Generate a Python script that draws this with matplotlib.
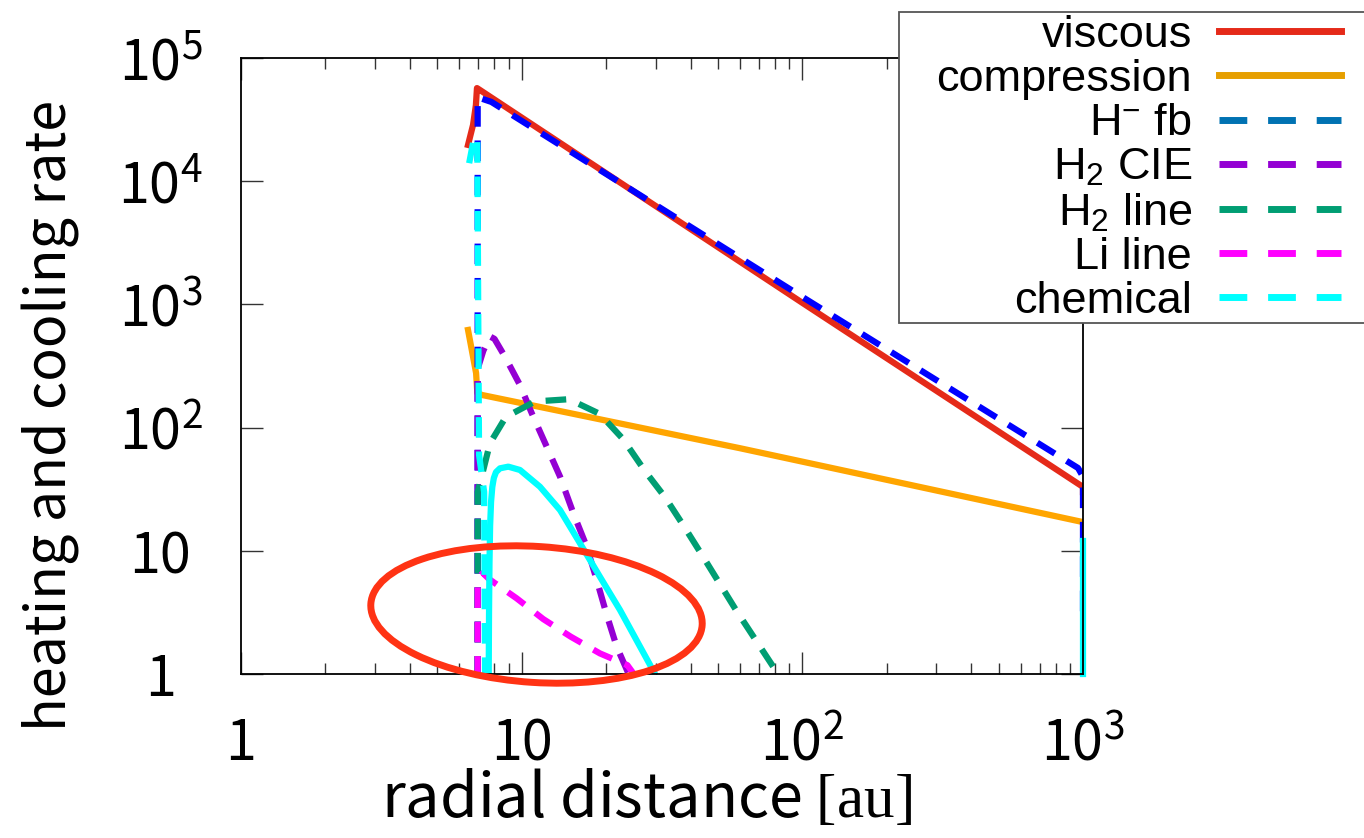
import matplotlib
matplotlib.use('Agg')
import matplotlib.pyplot as plt
from matplotlib.lines import Line2D
from matplotlib.patches import Ellipse, Rectangle
from matplotlib.ticker import NullFormatter

plt.rcParams['font.family'] = ['Noto Sans CJK JP', 'DejaVu Sans']
plt.rcParams['mathtext.fontset'] = 'custom'
plt.rcParams['mathtext.rm'] = 'Liberation Serif'
plt.rcParams['mathtext.it'] = 'Liberation Serif:italic'

# values (radius in au, rate in plot units)
visc_r = [6.44, 6.71, 6.87, 6.93, 7.10, 100, 1000, 1000]
visc_q = [1.97e4, 2.86e4, 4.15e4, 5.7e4, 5.5e4, 1030, 33, 30]

comp_r = [6.44, 6.88, 6.95, 7.22, 60, 1000]
comp_q = [620, 277, 191, 184, 68, 17.1]

hfb_r = [6.97, 6.97, 7.8, 100, 960, 1000, 1000]
hfb_q = [0.5, 4.8e4, 4.4e4, 1150, 47, 40, 2.5]

cie_r = [6.97, 6.97, 7.3, 7.7, 8.0, 8.72, 9.86, 10.86, 12.28, 13.70,
         15.28, 17.05, 18.51, 20.1, 21.8, 23.7, 24.5]
cie_q = [0.5, 300, 420, 550, 525, 376, 222, 131, 70, 40,
         20.2, 10.8, 5.8, 3.01, 1.67, 1.08, 0.9]

h2l_r = [6.97, 6.97, 7.2, 7.71, 8.78, 11.16, 14.74, 19.0, 22.96, 27.5,
         32.4, 37.6, 43.9, 58.0, 81.9, 86]
h2l_q = [0.5, 30, 40, 74.6, 122, 163, 170, 129, 80.8, 44.4,
         27.3, 16.2, 9.25, 3.31, 1.0, 0.8]

li_r = [6.97, 6.97, 7.28, 7.65, 9.60, 11.94, 14.95, 19.0, 23.8, 25.5]
li_q = [0.5, 6.0, 6.6, 5.9, 4.11, 2.79, 2.01, 1.47, 1.18, 0.95]

chem_r = [6.5, 6.75, 6.95, 7.0, 7.05, 7.35, 7.42]
chem_q = [1.4e4, 2.2e4, 2.3e4, 1.0e3, 60, 30, 0.5]
bump_r = [7.62, 7.65, 7.68, 7.72, 7.78, 7.86, 7.96, 8.1, 8.37, 8.96, 9.86,
          11.62, 13.70, 16.14, 19.0, 22.4, 26.4, 28.7, 30.5]
bump_q = [0.5, 3.0, 8.0, 16.0, 25.0, 33.0, 39.0, 43.5, 46.7, 48.2, 45.3,
          33.1, 21.4, 11.5, 6.16, 3.31, 1.67, 1.18, 0.9]
edge_r = [1000, 1000]
edge_q = [12, 1]

labels = ['viscous', 'compression', 'H$^{\\mathdefault{-}}$ fb',
          'H$_{\\mathdefault{2}}$ CIE', 'H$_{\\mathdefault{2}}$ line',
          'Li line', 'chemical']
key_colors = ['#e52a19', '#e69f00', '#0072b2', '#9400d3', '#009e73',
              '#ff00ff', '#00ffff']

xticks = [1, 10, 100, 1000]
xticklabels = ['1', '10', '$\\mathdefault{10^{2}}$', '$\\mathdefault{10^{3}}$']
yticks = [1, 10, 100, 1e3, 1e4, 1e5]
yticklabels = ['1', '10', '$\\mathdefault{10^{2}}$', '$\\mathdefault{10^{3}}$',
               '$\\mathdefault{10^{4}}$', '$\\mathdefault{10^{5}}$']

W, H = 1364, 838
fig = plt.figure(figsize=(W / 100, H / 100), dpi=100)
ax = fig.add_axes([241 / W, 1 - 674 / H, (1083 - 241) / W, (674 - 58) / H])

lw = 4.5
dash = (0, (3.3, 2.2))
ax.plot(visc_r, visc_q, color='#e52a19', lw=lw)
ax.plot(comp_r, comp_q, color='#ffa500', lw=lw)
ax.plot(hfb_r, hfb_q, color='#0000ff', lw=lw, ls=dash)
ax.plot(cie_r, cie_q, color='#9400d3', lw=lw, ls=dash)
ax.plot(h2l_r, h2l_q, color='#009e73', lw=lw, ls=dash)
ax.plot(li_r, li_q, color='#ff00ff', lw=lw, ls=dash)
ax.plot(chem_r, chem_q, color='#00ffff', lw=lw, ls=dash)
ax.plot(bump_r, bump_q, color='#00ffff', lw=lw)
ax.plot(edge_r, edge_q, color='#00ffff', lw=lw, clip_on=False)

ax.set_xscale('log')
ax.set_yscale('log')
ax.set_xlim(1, 1000)
ax.set_ylim(1, 1e5)
ax.set_xticks(xticks, xticklabels)
ax.set_yticks(yticks, yticklabels)
ax.xaxis.set_minor_formatter(NullFormatter())
ax.yaxis.set_minor_formatter(NullFormatter())
ax.tick_params(which='both', direction='in', top=True, right=True,
               color='#333333', width=1.0, labelsize=40)
ax.tick_params(which='major', length=16)
ax.tick_params(which='minor', length=8)
ax.tick_params(axis='x', pad=30)
ax.tick_params(axis='y', pad=58)
for t in ax.get_yticklabels():
    t.set_horizontalalignment('center')
for s in ax.spines.values():
    s.set_linewidth(1.3)

ax.set_xlabel('radial distance $\\mathrm{[au]}$', fontsize=44)
ax.xaxis.set_label_coords((646 - 241) / (1083 - 241), -(768 - 674) / (674 - 58))
ax.set_ylabel('heating and cooling rate', fontsize=40, va='center')
ax.yaxis.set_label_coords((51 - 241) / (1083 - 241), (674 - 415) / (674 - 58))

# key box sits over the top-right corner of the frame and runs off the figure
ax.add_patch(Rectangle((899 / W, 1 - 323 / H), (1400 - 899) / W, (323 - 12) / H,
                       transform=fig.transFigure, facecolor='white',
                       edgecolor='#555555', lw=1.3, clip_on=False, zorder=4.9))
handles = [Line2D([], [], color=key_colors[0], lw=5),
           Line2D([], [], color=key_colors[1], lw=5)]
handles += [Line2D([], [], color=c, lw=5, ls=(0, (4.0, 3.0))) for c in key_colors[2:]]
ax.legend(handles, labels, loc='upper right', bbox_to_anchor=(1341 / W, 1 - 15 / H),
          bbox_transform=fig.transFigure, markerfirst=False, frameon=False,
          prop={'family': 'Liberation Sans', 'size': 32.5}, handlelength=2.7,
          handletextpad=0.6, labelspacing=0.07, borderpad=0, borderaxespad=0)

fig.add_artist(Ellipse((5.365, 2.235), 3.32, 1.36, angle=-3.7,
                       transform=fig.dpi_scale_trans, fill=False,
                       edgecolor='#ff3314', lw=5, zorder=10))

fig.savefig('out.png', dpi=100)
